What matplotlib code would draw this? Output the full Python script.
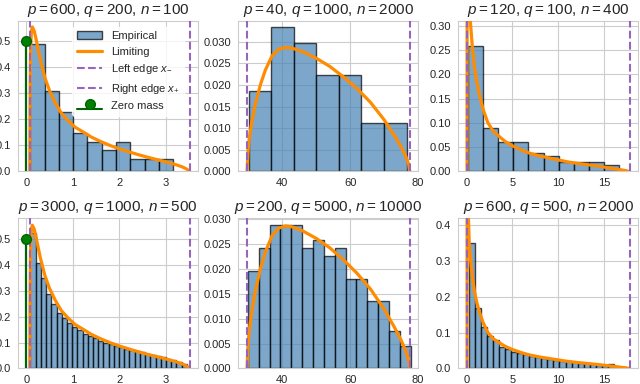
import numpy as np
import matplotlib
matplotlib.use("Agg")
import matplotlib.pyplot as plt
import seaborn as sns

sns.set_style("whitegrid")
plt.rcParams["font.family"] = ["Liberation Sans", "DejaVu Sans"]
plt.rcParams["mathtext.fontset"] = "custom"
plt.rcParams["mathtext.rm"] = "Liberation Sans"
plt.rcParams["mathtext.it"] = "Liberation Sans:italic"

# panel titles (p, q, n)
params = [(600, 200, 100), (40, 1000, 2000), (120, 100, 400),
          (3000, 1000, 500), (200, 5000, 10000), (600, 500, 2000)]

# empirical histograms: first bin edge, bin width, bar heights (density)
hist_start = [0.086, 30.05, 0.14, 0.09, 29.85, 0.25]
hist_width = [0.307, 6.66, 1.655, 0.112, 3.2, 0.66]
hist_1 = [0.489, 0.309, 0.228, 0.147, 0.114, 0.081, 0.114, 0.049, 0.049, 0.049]
hist_2 = [0.0186, 0.0334, 0.0297, 0.0223, 0.0223, 0.0112, 0.0112]
hist_3 = [0.258, 0.090, 0.061, 0.061, 0.0375, 0.032, 0.0204, 0.0204, 0.0204, 0.0136]
hist_4 = [0.523, 0.410, 0.350, 0.290, 0.250, 0.215, 0.195, 0.175, 0.160, 0.148,
          0.135, 0.125, 0.117, 0.108, 0.100, 0.093, 0.087, 0.082, 0.076, 0.071,
          0.068, 0.063, 0.058, 0.052, 0.047, 0.043, 0.038, 0.031, 0.025, 0.017]
hist_5 = [0.0197, 0.0243, 0.0289, 0.0289, 0.0289, 0.0243, 0.0258, 0.0227,
          0.0243, 0.0181, 0.0181, 0.0136, 0.0136, 0.0076, 0.0046]
hist_6 = [0.350, 0.170, 0.115, 0.091, 0.080, 0.061, 0.055, 0.047, 0.043, 0.040,
          0.036, 0.033, 0.030, 0.027, 0.025, 0.022, 0.020, 0.018, 0.016, 0.014,
          0.012, 0.011, 0.009, 0.013, 0.005, 0.005]
hists = [hist_1, hist_2, hist_3, hist_4, hist_5, hist_6]

# limiting densities (shared by the two rows)
lim_a_x = [0.075, 0.08, 0.09, 0.11, 0.13, 0.17, 0.22, 0.30, 0.40, 0.50, 0.62, 0.75,
           0.90, 1.05, 1.22, 1.40, 1.60, 1.80, 2.00, 2.20, 2.40, 2.60, 2.80, 3.00,
           3.20, 3.35, 3.45, 3.51]
lim_a_y = [0.0, 0.25, 0.45, 0.54, 0.555, 0.54, 0.50, 0.43, 0.36, 0.31, 0.265, 0.225,
           0.195, 0.17, 0.152, 0.132, 0.115, 0.100, 0.087, 0.076, 0.065, 0.055, 0.046,
           0.037, 0.027, 0.018, 0.009, 0.0]
lim_b_x = [29.6, 29.8, 30.2, 31.0, 32.0, 33.5, 35.0, 37.0, 39.0, 41.0, 43.0, 46.0,
           50.0, 54.0, 58.0, 62.0, 66.0, 70.0, 73.0, 75.0, 76.5, 77.3, 77.6]
lim_b_y = [0.0, 0.004, 0.0075, 0.0115, 0.0155, 0.0200, 0.0235, 0.0268, 0.0283, 0.0287,
           0.0285, 0.0277, 0.0262, 0.0243, 0.0219, 0.0192, 0.0160, 0.0120, 0.0084,
           0.0058, 0.0034, 0.0016, 0.0]
lim_c_x = [0.04, 0.05, 0.08, 0.12, 0.18, 0.28, 0.40, 0.50, 0.65, 0.85, 1.1, 1.4, 1.8,
           2.3, 2.9, 3.5, 4.2, 5.0, 6.0, 7.0, 8.0, 9.0, 10.0, 11.0, 12.0, 13.0, 14.0,
           15.0, 16.0, 16.8, 17.4, 17.8]
lim_c_y = [0.0, 0.9, 0.75, 0.56, 0.43, 0.35, 0.31, 0.285, 0.25, 0.215, 0.185, 0.157,
           0.128, 0.101, 0.083, 0.073, 0.062, 0.053, 0.044, 0.037, 0.032, 0.028, 0.024,
           0.020, 0.017, 0.0145, 0.012, 0.0092, 0.0063, 0.0038, 0.0018, 0.0]
limits = [(lim_a_x, lim_a_y), (lim_b_x, lim_b_y), (lim_c_x, lim_c_y)] * 2

# support edges x-, x+ and the atom at zero
edges = [(0.075, 3.51), (29.6, 77.6), (0.04, 17.9)] * 2
zero_mass = [0.5, None, None, 0.5, None, None]

xlims = [(-0.18, 3.69), (26.9, 80.05), (-0.95, 18.75)] * 2
ylims = [(0, 0.578), (0, 0.0348), (0, 0.31), (0, 0.583), (0, 0.0303), (0, 0.42)]
yticks = [np.arange(0, 0.51, 0.1), np.arange(0, 0.031, 0.005), np.arange(0, 0.31, 0.05),
          np.arange(0, 0.51, 0.1), np.arange(0, 0.031, 0.005), np.arange(0, 0.41, 0.1)]
yfmt = ["{:.1f}", "{:.3f}", "{:.2f}", "{:.1f}", "{:.3f}", "{:.1f}"]

fig, axes = plt.subplots(2, 3, figsize=(6.4, 3.84), dpi=100)
fig.subplots_adjust(left=0.028, right=0.997, bottom=0.0404, top=0.9453,
                    wspace=0.222, hspace=0.309)

for i, ax in enumerate(axes.flat):
    p, q, n = params[i]
    h = np.array(hists[i])
    lefts = hist_start[i] + hist_width[i] * np.arange(len(h))
    ax.bar(lefts, h, width=hist_width[i], align="edge", color="steelblue",
           edgecolor="black", alpha=0.7, linewidth=1.0, label="Empirical", zorder=2)
    lx, ly = limits[i]
    ax.plot(lx, ly, color="darkorange", lw=2.3, label="Limiting", zorder=3)
    ax.axvline(edges[i][0], color="tab:purple", ls="--", lw=1.5,
               label="Left edge $x_{-}$", zorder=4)
    ax.axvline(edges[i][1], color="tab:purple", ls="--", lw=1.5,
               label="Right edge $x_{+}$", zorder=4)
    if zero_mass[i] is not None:
        st = ax.stem([0], [zero_mass[i]], linefmt="darkgreen", markerfmt="o",
                     basefmt="darkgreen", label="Zero mass")
        st.markerline.set_markerfacecolor("green")
        st.markerline.set_markeredgecolor("darkgreen")
        st.markerline.set_markersize(7)
        st.markerline.set_zorder(5)
        st.stemlines.set_linewidth(1.6)
        st.stemlines.set_zorder(5)
    ax.set_xlim(*xlims[i])
    ax.set_ylim(*ylims[i])
    ax.set_yticks(yticks[i])
    ax.set_yticklabels([yfmt[i].format(v) for v in yticks[i]])
    ax.tick_params(labelsize=8, pad=1.5)
    ax.set_title(f"$p = {p}$, $q = {q}$, $n = {n}$", fontsize=11, pad=5)
    if i == 0:
        handles, labels = ax.get_legend_handles_labels()
        order = [labels.index(s) for s in
                 ["Empirical", "Limiting", "Left edge $x_{-}$",
                  "Right edge $x_{+}$", "Zero mass"]]
        ax.legend([handles[k] for k in order], [labels[k] for k in order],
                  loc="upper right", bbox_to_anchor=(0.955, 1.0), fontsize=8,
                  handlelength=2.3, frameon=True, framealpha=0.8,
                  facecolor="white", edgecolor="white")

fig.savefig("out.png", dpi=100)
